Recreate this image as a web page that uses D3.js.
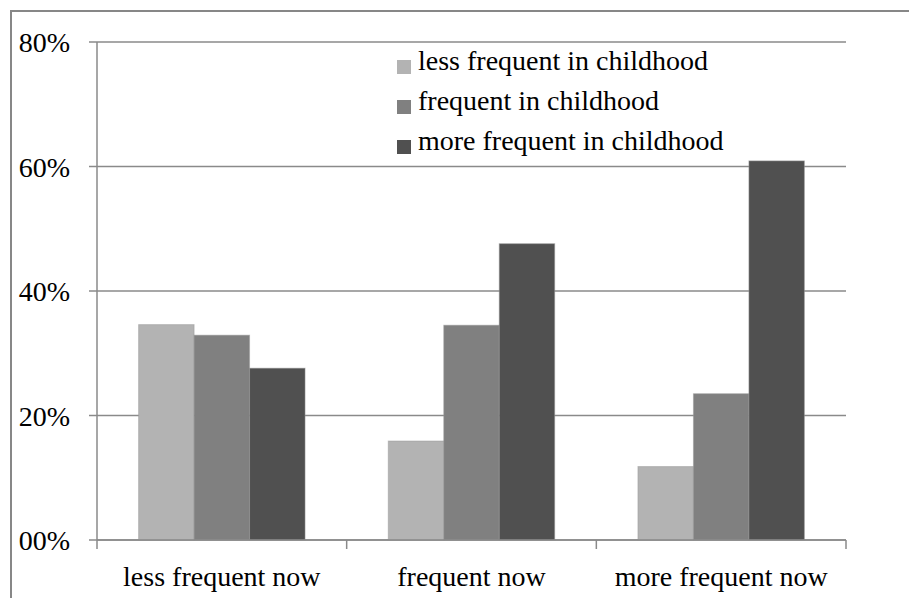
<!DOCTYPE html>
<html>
<head>
<meta charset="utf-8">
<script src="https://cdn.jsdelivr.net/npm/d3@7"></script>
<style>
  body { margin: 0; background: #fff; }
  text { font-family: "Liberation Serif", "Times New Roman", serif; fill: #000; }
</style>
</head>
<body>
<script>
const categories = ['less frequent now', 'frequent now', 'more frequent now'];
const seriesNames = ['less frequent in childhood', 'frequent in childhood', 'more frequent in childhood'];
const lessInChildhood = [0.346, 0.159, 0.118];
const frequentInChildhood = [0.329, 0.345, 0.235];
const moreInChildhood = [0.276, 0.476, 0.609];
const yTicks = [0, 0.2, 0.4, 0.6, 0.8];
const yTickLabels = ['00%', '20%', '40%', '60%', '80%'];
const colors = ['#b3b3b3', '#808080', '#505050'];

const values = [lessInChildhood, frequentInChildhood, moreInChildhood];

const svg = d3.select('body').append('svg')
    .attr('width', 909)
    .attr('height', 598);

// outer chart border (only left and top are inside the picture)
svg.append('rect')
    .attr('x', 11).attr('y', 11)
    .attr('width', 1000).attr('height', 1000)
    .attr('fill', 'none')
    .attr('stroke', '#878787')
    .attr('stroke-width', 2);

const plotLeft = 97, plotRight = 846, plotTop = 42, plotBottom = 540;

const y = d3.scaleLinear().domain([0, 0.8]).range([plotBottom, plotTop]);
const x0 = d3.scaleBand().domain(categories).range([plotLeft, plotRight]);
const x1 = d3.scaleBand().domain(d3.range(seriesNames.length))
    .range([0, x0.bandwidth()])
    .paddingInner(0)
    .paddingOuter(0.75);

// gridlines
svg.append('g').selectAll('line')
    .data(yTicks)
    .join('line')
    .attr('x1', plotLeft - 8).attr('x2', plotRight)
    .attr('y1', d => y(d)).attr('y2', d => y(d))
    .attr('stroke', '#8a8a8a')
    .attr('stroke-width', 1.5);

// y axis line
svg.append('line')
    .attr('x1', plotLeft).attr('x2', plotLeft)
    .attr('y1', plotTop).attr('y2', plotBottom)
    .attr('stroke', '#8a8a8a')
    .attr('stroke-width', 1.5);

// y tick labels
svg.append('g').selectAll('text')
    .data(yTicks)
    .join('text')
    .attr('x', 70)
    .attr('y', d => y(d) + 10)
    .attr('text-anchor', 'end')
    .attr('font-size', 28)
    .text((d, i) => yTickLabels[i]);

// bars
const groups = svg.append('g').selectAll('g')
    .data(categories)
    .join('g')
    .attr('transform', d => `translate(${x0(d)},0)`);

groups.selectAll('rect')
    .data((c, ci) => values.map((s, si) => ({ si, v: s[ci] })))
    .join('rect')
    .attr('x', d => x1(d.si))
    .attr('width', x1.bandwidth())
    .attr('y', d => y(d.v))
    .attr('height', d => plotBottom - y(d.v))
    .attr('fill', d => colors[d.si])
    .attr('stroke', '#9a9a9a')
    .attr('stroke-opacity', 0.5)
    .attr('stroke-width', 1);

// x axis line and boundary ticks
svg.append('line')
    .attr('x1', plotLeft).attr('x2', plotRight)
    .attr('y1', plotBottom).attr('y2', plotBottom)
    .attr('stroke', '#8a8a8a')
    .attr('stroke-width', 1.5);

const boundaries = categories.map(c => x0(c)).concat([plotRight]);
svg.append('g').selectAll('line')
    .data(boundaries)
    .join('line')
    .attr('x1', d => d).attr('x2', d => d)
    .attr('y1', plotBottom).attr('y2', plotBottom + 9)
    .attr('stroke', '#8a8a8a')
    .attr('stroke-width', 1.5);

// x labels
svg.append('g').selectAll('text')
    .data(categories)
    .join('text')
    .attr('x', d => x0(d) + x0.bandwidth() / 2)
    .attr('y', 586)
    .attr('text-anchor', 'middle')
    .attr('font-size', 28)
    .text(d => d);

// legend
const legend = svg.append('g').selectAll('g')
    .data(seriesNames)
    .join('g')
    .attr('transform', (d, i) => `translate(397,${70 + i * 40})`);

legend.append('rect')
    .attr('x', 0).attr('y', -10)
    .attr('width', 14).attr('height', 14)
    .attr('fill', (d, i) => colors[i]);

legend.append('text')
    .attr('x', 21)
    .attr('y', 0)
    .attr('font-size', 28)
    .text(d => d);
</script>
</body>
</html>
